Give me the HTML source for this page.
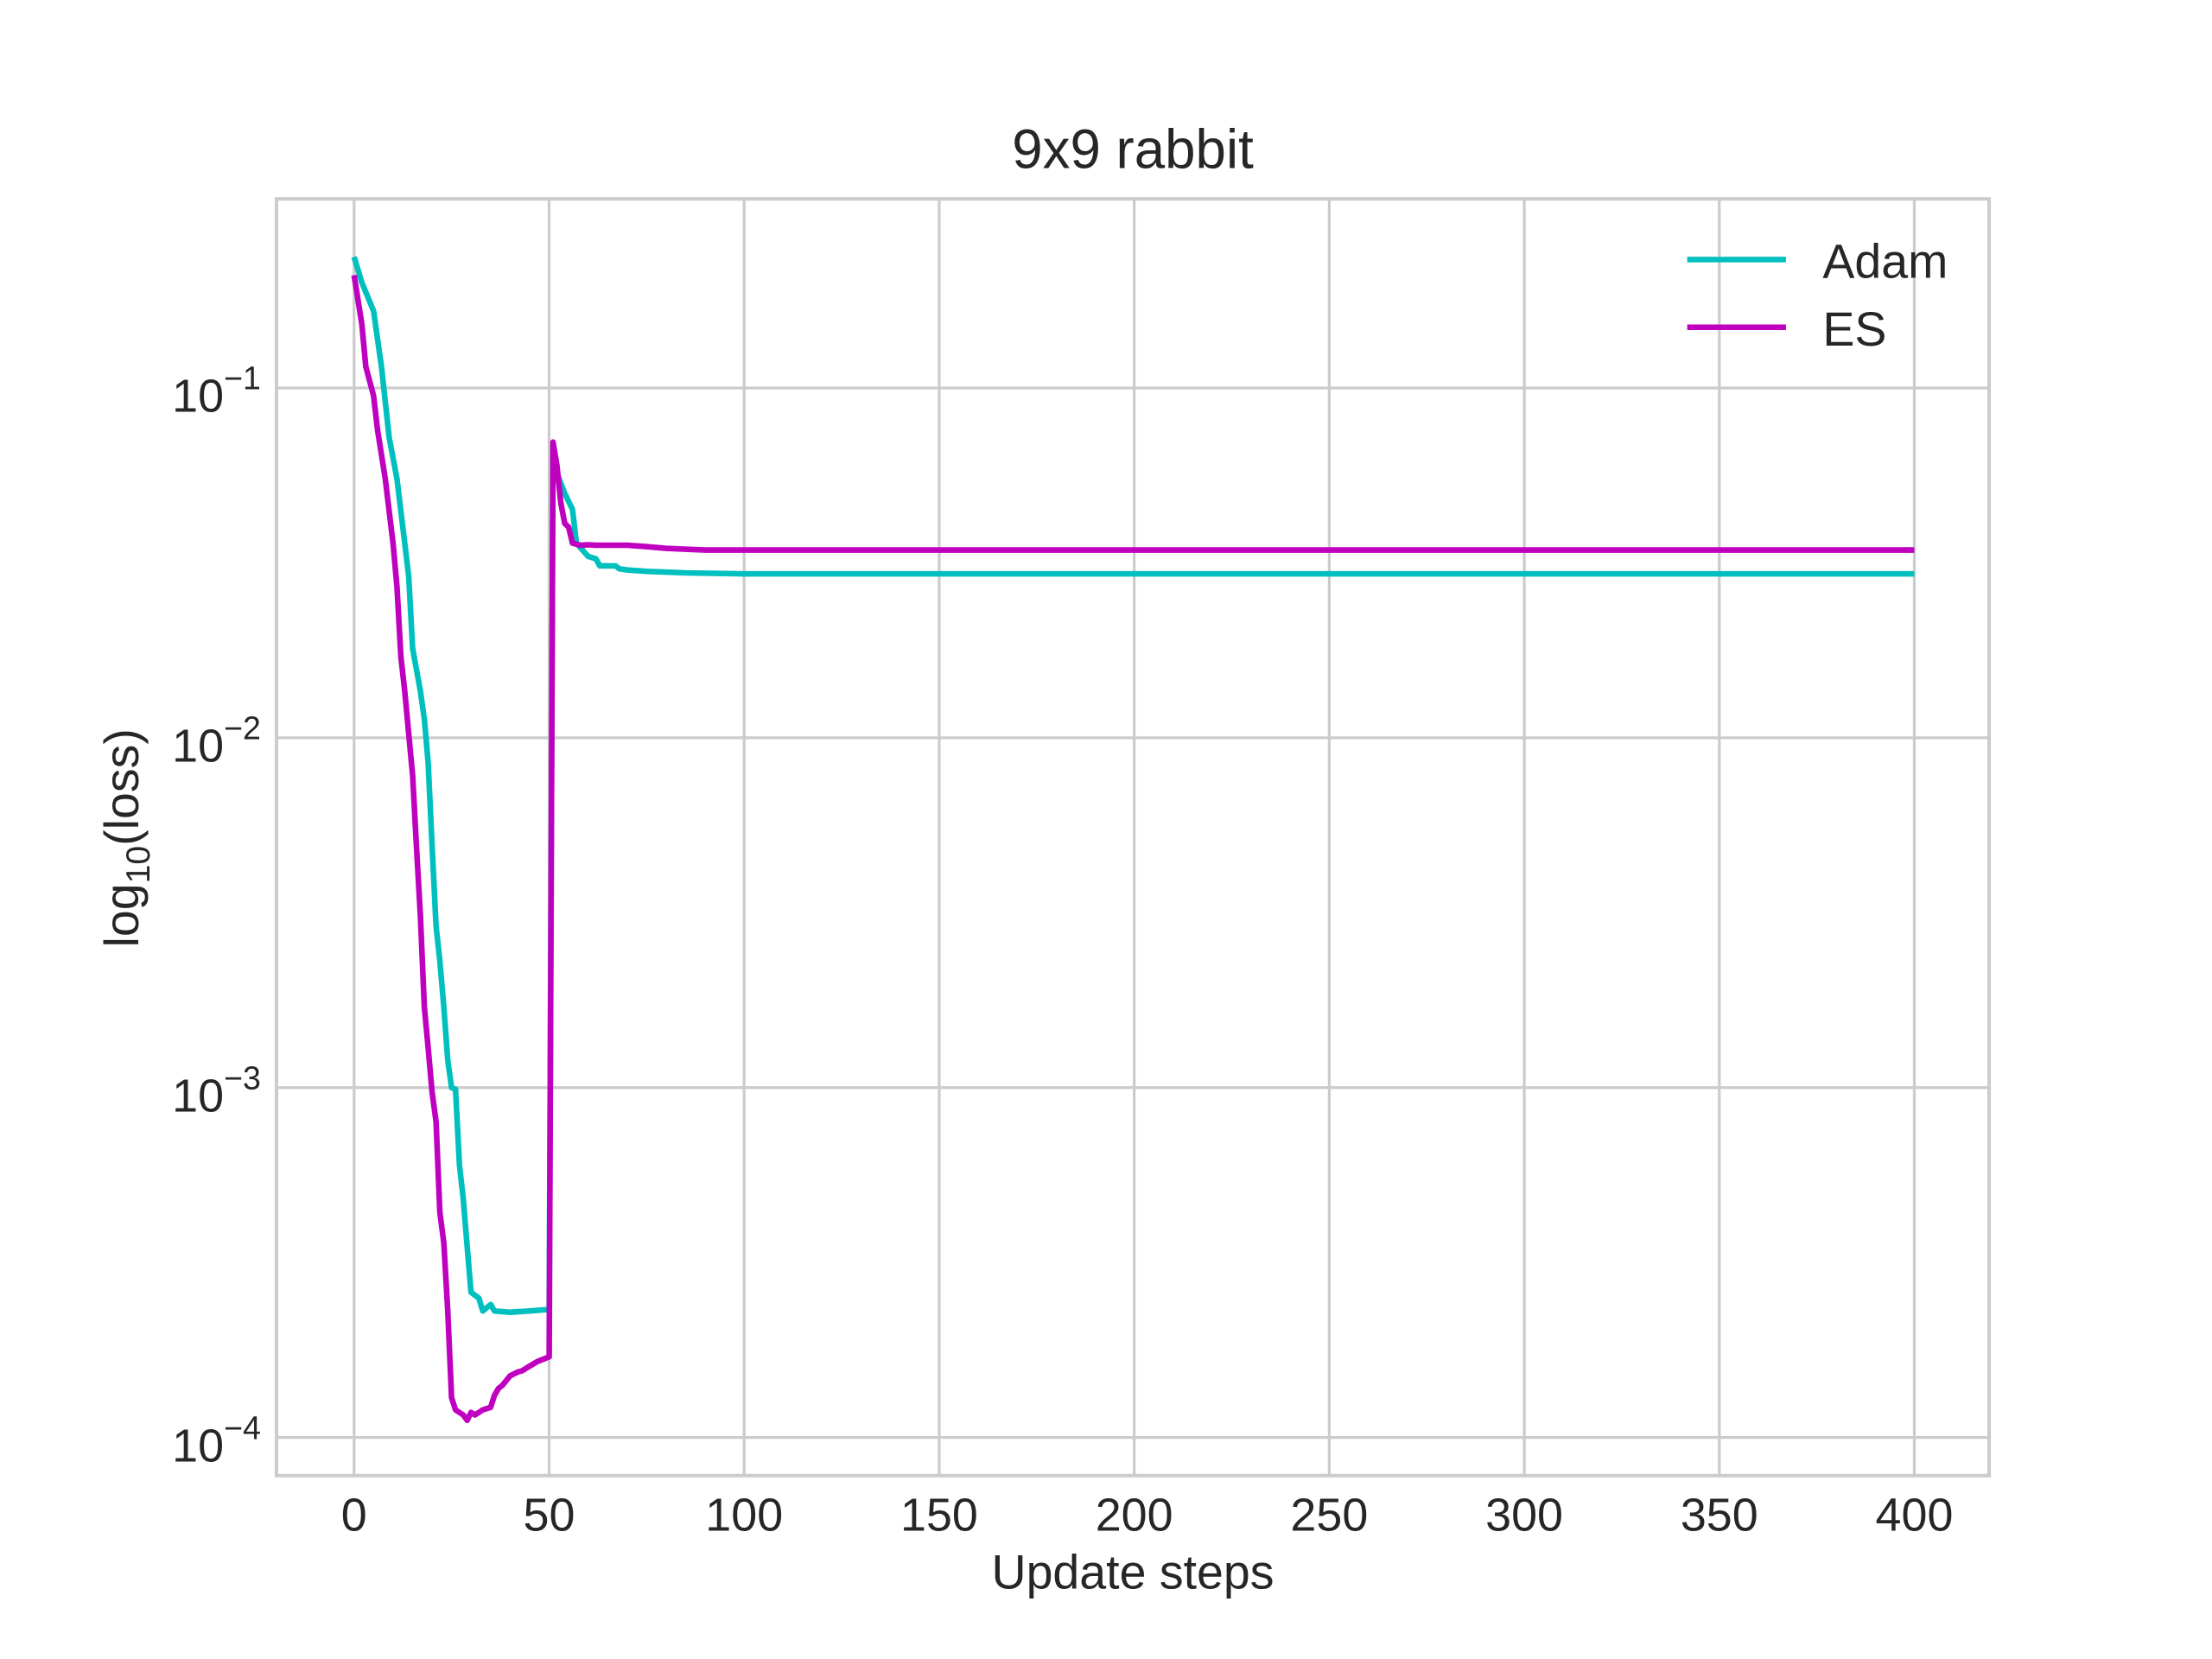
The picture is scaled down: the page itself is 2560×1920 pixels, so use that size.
<!DOCTYPE html>
<html><head><meta charset="utf-8"><style>
html,body{margin:0;padding:0;background:#fff}
svg{display:block}
text{font-family:"Liberation Sans",sans-serif;fill:#262626}
</style></head><body>
<svg id="chart" width="2560" height="1920" viewBox="0 0 1568 1176" xmlns="http://www.w3.org/2000/svg">
<rect width="1568" height="1176" fill="#fff"/>
<g id="grid"></g>
<g id="series"></g>
<rect x="196" y="141" width="1214" height="905" fill="none" stroke="#cccccc" stroke-width="2.5"/>
<g id="ticks"></g>
<text x="803" y="119" font-size="39" text-anchor="middle">9x9 rabbit</text>
<text x="803" y="1126" font-size="34" text-anchor="middle">Update steps</text>
<text transform="translate(98,594) rotate(-90)" font-size="34" text-anchor="middle">log<tspan font-size="24" dy="8">10</tspan><tspan dy="-8">(loss)</tspan></text>
<g>
<line x1="1196" y1="184" x2="1266" y2="184" stroke="#00bfbf" stroke-width="4"/>
<text x="1292" y="197" font-size="34">Adam</text>
<line x1="1196" y1="232" x2="1266" y2="232" stroke="#bf00bf" stroke-width="4"/>
<text x="1292" y="245" font-size="34">ES</text>
</g>
</svg>
<script>
const xTicks=[0,50,100,150,200,250,300,350,400];
const yTickExps=[-1,-2,-3,-4];
const adamSteps=[0,2,5,7,9,11,14,15,17,18,19,20,21,22,23,24,25,26,27,28,29,30,32,33,35,36,40,45,49,50,51,52,54,56,57,60,62,63,67,68,70,75,85,100,400];
const adamLoss=[0.237,0.2,0.166,0.115,0.072,0.055,0.029,0.018,0.0136,0.0113,0.0085,0.0049,0.0029,0.0023,0.0017,0.0012,0.001,0.00099,0.0006,0.00048,0.00035,0.00026,0.00025,0.00023,0.00024,0.00023,0.000228,0.00023,0.000232,0.000232,0.069,0.057,0.05,0.045,0.036,0.033,0.0325,0.031,0.031,0.0304,0.0302,0.0299,0.0296,0.0294,0.0294];
const esSteps=[0,2,3,5,6,8,10,11,12,13,15,16,17,18,19,20,21,22,23,24,25,26,28,29,30,31,33,35,36,37,38,40,42,43,45,47,50,51,52,53,54,55,56,58,60,62,70,75,80,90,400];
const esLoss=[0.21,0.152,0.115,0.095,0.076,0.055,0.036,0.027,0.017,0.0136,0.0078,0.0049,0.0031,0.0017,0.0013,0.00097,0.0008,0.00044,0.00036,0.00023,0.00013,0.00012,0.000116,0.000112,0.000118,0.000116,0.00012,0.000122,0.000132,0.000138,0.000141,0.00015,0.000154,0.000155,0.00016,0.000165,0.00017,0.07,0.06,0.047,0.041,0.04,0.036,0.0355,0.0356,0.0355,0.0355,0.0352,0.0348,0.0344,0.0344];
const NS='http://www.w3.org/2000/svg';
function xs(v){return 251+v*(1357-251)/400;}
function ys(v){return 275+(-1-Math.log10(v))*248;}
function mk(tag,attrs,parent){const e=document.createElementNS(NS,tag);for(const k in attrs)e.setAttribute(k,attrs[k]);parent.appendChild(e);return e;}
const grid=document.getElementById('grid'),ticks=document.getElementById('ticks'),series=document.getElementById('series');
xTicks.forEach(t=>{
 const l=mk('line',{x1:xs(t),x2:xs(t),y1:141,y2:1046,stroke:'#cccccc','stroke-width':2},grid);
 
 
 const tx=mk('text',{x:xs(t),y:1085,'font-size':33,'text-anchor':'middle'},ticks);
 tx.textContent=String(t);
 
 
});
yTickExps.forEach(e=>{
 const y=ys(Math.pow(10,e));
 const l=mk('line',{x1:196,x2:1410,y1:y,y2:y,stroke:'#cccccc','stroke-width':2},grid);
 
 
 const tx=mk('text',{x:122,y:y+17,'font-size':33},ticks);
 
 
 tx.appendChild(document.createTextNode('10'));
 const sp=mk('tspan',{'font-size':23,dy:-16},tx);
 sp.textContent='\u2212'+Math.abs(e);
});
function line(steps,vals,color,name){
 const d=steps.map((s,i)=>(i?'L':'M')+xs(s).toFixed(1)+','+ys(vals[i]).toFixed(1)).join(' ');
 const p=mk('path',{d:d,fill:'none',stroke:color,'stroke-width':4,'stroke-linejoin':'round'},series);
 
 
}
line(adamSteps,adamLoss,'#00bfbf','adam-line');
line(esSteps,esLoss,'#bf00bf','es-line');
</script>
</body></html>
